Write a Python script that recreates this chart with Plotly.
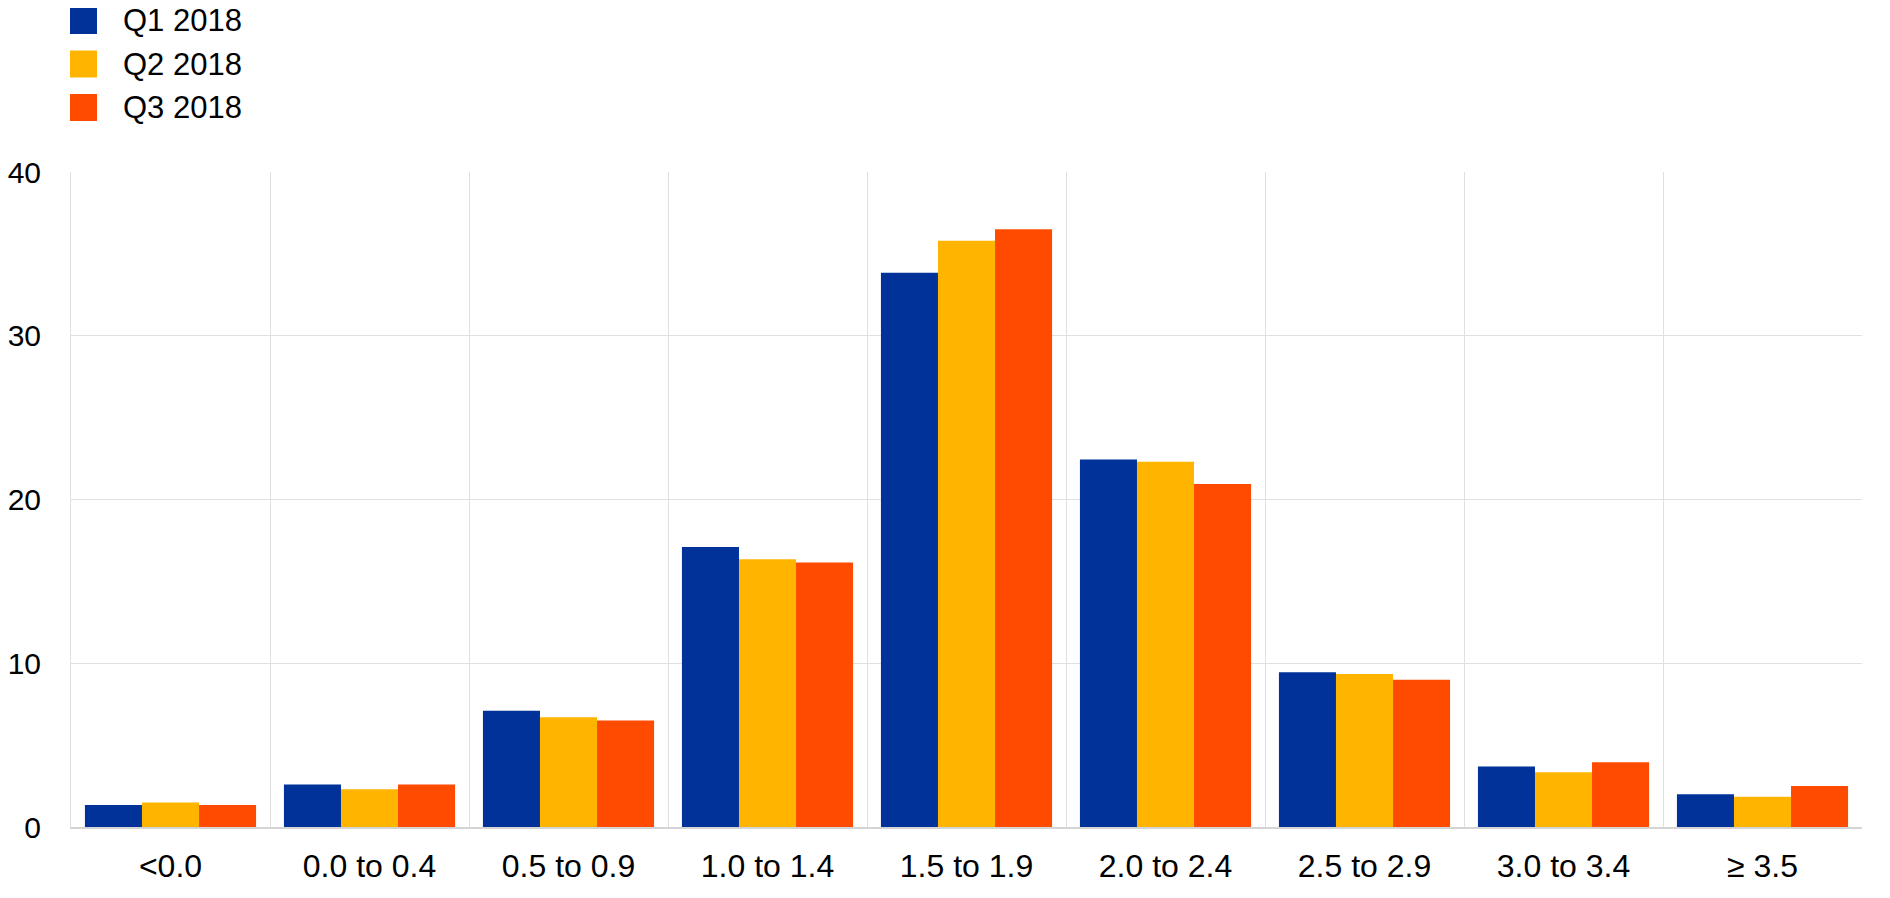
import plotly.graph_objects as go

categories = ["<0.0", "0.0 to 0.4", "0.5 to 0.9", "1.0 to 1.4", "1.5 to 1.9",
              "2.0 to 2.4", "2.5 to 2.9", "3.0 to 3.4", "\u2265 3.5"]
series_names = ["Q1 2018", "Q2 2018", "Q3 2018"]
q1_2018 = [1.35, 2.6, 7.1, 17.1, 33.85, 22.45, 9.45, 3.7, 2.0]
q2_2018 = [1.5, 2.3, 6.7, 16.35, 35.8, 22.3, 9.35, 3.35, 1.85]
q3_2018 = [1.35, 2.6, 6.5, 16.15, 36.5, 20.95, 9.0, 3.95, 2.5]
colors = ["#003299", "#FFB400", "#FF4B00"]
y_ticks = [0, 10, 20, 30, 40]

OFF = 8  # page body margin
W, H = 1890 - OFF, 898 - OFF
ML, MT = 71 - OFF, 172 - OFF
PW, PH = 1791, 655
MR = W - ML - PW
MB = H - MT - PH
FONT = "Liberation Sans, Arial, sans-serif"
FS = 31

fig = go.Figure()
for name, vals, col in zip(series_names, [q1_2018, q2_2018, q3_2018], colors):
    fig.add_trace(go.Bar(x=categories, y=vals, name=name, marker_color=col,
                         marker_line_width=0, showlegend=False))

# manual legend (large square swatches), positioned in screen pixels
def px_x(X):
    return (X - OFF - ML) / PW
def px_y(Y):
    return (H - MB - (Y - OFF)) / PH

for i, (name, col) in enumerate(zip(series_names, colors)):
    yc = 20.5 + i * 43.5
    fig.add_shape(type="rect", xref="paper", yref="paper",
                  x0=px_x(70), x1=px_x(97), y0=px_y(yc + 13.5), y1=px_y(yc - 13.5),
                  fillcolor=col, line_width=0)
    fig.add_annotation(xref="paper", yref="paper", x=px_x(121), y=px_y(yc),
                       text=name, showarrow=False, xanchor="left", yanchor="middle",
                       font=dict(size=FS, color="#000000", family=FONT))

fig.update_layout(
    width=W, height=H,
    margin=dict(l=ML, r=MR, t=MT, b=MB, pad=0, autoexpand=False),
    barmode="group", bargap=0.14, bargroupgap=0,
    plot_bgcolor="white", paper_bgcolor="white",
    font=dict(family=FONT, size=FS, color="#000000"),
    showlegend=False,
)
fig.update_xaxes(type="category", tickson="boundaries", showgrid=True,
                 gridcolor="#e0e0e0", gridwidth=1, showline=True, automargin=False,
                 linecolor="#d4d4d4", linewidth=2, ticks="", ticklabelstandoff=10,
                 tickfont=dict(size=32, family=FONT))
fig.update_yaxes(range=[0, 40], tickvals=y_ticks, showgrid=True, gridcolor="#e0e0e0",
                 gridwidth=1, showline=True, linecolor="#e0e0e0", linewidth=1,
                 automargin=False, zeroline=False, ticks="", ticklabelstandoff=23,
                 tickfont=dict(size=30, family=FONT))

fig.write_html("out.html")
